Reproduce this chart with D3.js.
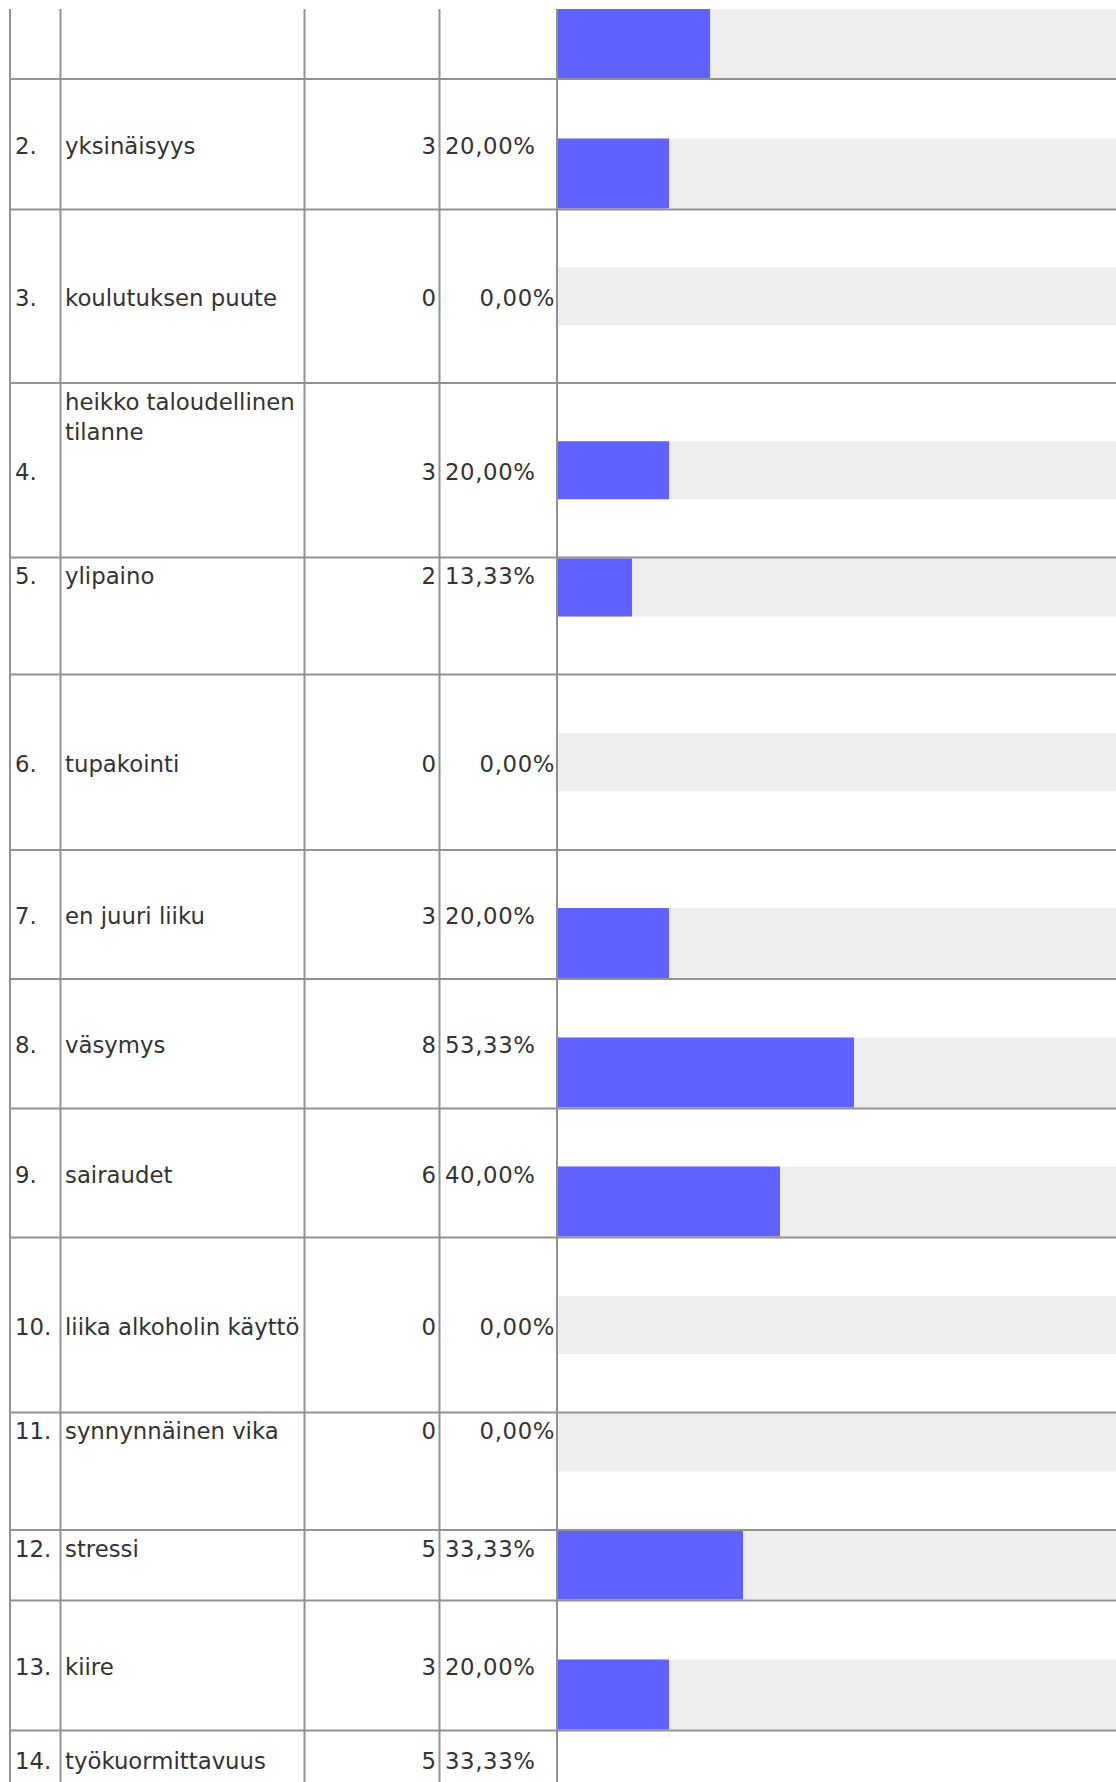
<!DOCTYPE html>
<html>
<head>
<meta charset="utf-8">
<script src="https://cdn.jsdelivr.net/npm/d3@7/dist/d3.min.js"></script>
<style>
	body { margin: 0; background: #fff; }
	svg text { font-family: 'DejaVu Sans', Verdana, sans-serif; font-size: 22.8px; fill: #333; }
	svg text.pct { letter-spacing: 0.6px; }
</style>
</head>
<body>
<div id="container"></div>
<script>
// survey answers (row 1 is cut off at the top of the picture)
var rowNumbers = ['1.', '2.', '3.', '4.', '5.', '6.', '7.', '8.', '9.', '10.', '11.', '12.', '13.', '14.'];
var categories = ['', 'yksinäisyys', 'koulutuksen puute', 'heikko taloudellinen tilanne', 'ylipaino',
	'tupakointi', 'en juuri liiku', 'väsymys', 'sairaudet', 'liika alkoholin käyttö',
	'synnynnäinen vika', 'stressi', 'kiire', 'työkuormittavuus'];
var counts = [4, 3, 0, 3, 2, 0, 3, 8, 6, 0, 0, 5, 3, 5];
var percents = [27.4, 20, 0, 20, 13.33, 0, 20, 53.33, 40, 0, 0, 33.33, 20, 33.33];

// row layout of the table as it was rendered
var rowHeights = [175, 130.5, 173.5, 174.5, 117, 175.5, 129, 129.5, 129, 175, 117.5, 70.5, 130, 175];
var barAlign   = ['bottom', 'bottom', 'middle', 'middle', 'top', 'middle', 'bottom', 'bottom', 'bottom', 'middle', 'top', 'bottom', 'bottom', 'middle'];
var textAlign  = ['middle', 'middle', 'middle', 'middle', 'top', 'middle', 'middle', 'middle', 'middle', 'middle', 'top', 'top', 'middle', 'top'];
var labelAlign = ['middle', 'middle', 'middle', 'top', 'top', 'middle', 'middle', 'middle', 'middle', 'middle', 'top', 'top', 'middle', 'top'];

var width = 1116,
	height = 1782,
	clipTop = 9,
	firstLine = 79,
	colX = [10, 60.5, 304.5, 439.5, 557],
	lineColor = '#919191';

var rows = [], lines = [], y0 = firstLine - rowHeights[0];
lines.push(y0);
rowHeights.forEach(function(h, i) {
	var d = {
		num: rowNumbers[i],
		label: categories[i],
		count: counts[i],
		pct: percents[i],
		top: y0, bottom: y0 + h,
		barAlign: barAlign[i],
		barH: barAlign[i] == 'bottom' ? 70 : 58,
		textAlign: textAlign[i],
		labelAlign: labelAlign[i]
	};
	rows.push(d);
	y0 += h;
	lines.push(y0);
});

var xScale = d3.scaleLinear()
	.domain([0, 100])
	.range([0, 555]);

var canvas = d3.select('#container').append('svg')
	.attr('width', width)
	.attr('height', height);

canvas.append('defs').append('clipPath')
	.attr('id', 'clip')
	.append('rect')
	.attr('x', 0).attr('y', clipTop)
	.attr('width', width).attr('height', height - clipTop);

var g = canvas.append('g').attr('clip-path', 'url(#clip)');

function barY(d) {
	var inTop = d.top + 1, inBottom = d.bottom - 1;
	if (d.barAlign == 'top') return inTop;
	if (d.barAlign == 'bottom') return inBottom - d.barH;
	return (inTop + inBottom - d.barH) / 2;
}
function baseY(d, align) {
	if (align == 'top') return d.top + (d.num == '14.' ? 38 : 26.5);
	return (d.top + d.bottom) / 2 + 9.5;
}

// grey track + blue bar
var barX = colX[4] + 1;
g.selectAll('rect.track')
	.data(rows)
	.enter()
		.append('rect')
		.attr('class', 'track')
		.attr('x', barX)
		.attr('y', barY)
		.attr('width', width - barX)
		.attr('height', function(d) { return d.barH; })
		.attr('fill', '#eeeeee');

g.selectAll('rect.bar')
	.data(rows)
	.enter()
		.append('rect')
		.attr('class', 'bar')
		.attr('x', barX)
		.attr('y', barY)
		.attr('width', function(d) { return xScale(d.pct); })
		.attr('height', function(d) { return d.barH; })
		.attr('fill', '#6161ff');

// grid
g.selectAll('line.h')
	.data(lines)
	.enter()
		.append('line')
		.attr('x1', colX[0] - 1).attr('x2', width)
		.attr('y1', function(d) { return d; })
		.attr('y2', function(d) { return d; })
		.attr('stroke', lineColor)
		.attr('stroke-width', 2);

g.selectAll('line.v')
	.data(colX)
	.enter()
		.append('line')
		.attr('x1', function(d) { return d; })
		.attr('x2', function(d) { return d; })
		.attr('y1', clipTop).attr('y2', height)
		.attr('stroke', lineColor)
		.attr('stroke-width', 2);

// texts (row 1's texts sit above the cut, so they are left out)
var fmt = function(v) { return d3.format('.2f')(v).replace('.', ',') + '%'; };

var rowG = g.selectAll('g.row')
	.data(rows.filter(function(d) { return baseY(d, 'middle') > clipTop + 20; }))
	.enter()
		.append('g')
		.attr('class', 'row');

rowG.append('text')
	.attr('x', colX[0] + 5)
	.attr('y', function(d) { return baseY(d, d.textAlign); })
	.text(function(d) { return d.num; });

rowG.append('text')
	.attr('x', colX[1] + 4.5)
	.attr('y', function(d) { return baseY(d, d.labelAlign); })
	.each(function(d) {
		var t = d3.select(this), words = d.label.split(' '), line = [];
		var ts = t.append('tspan').attr('x', colX[1] + 4.5).attr('dy', 0);
		words.forEach(function(w) {
			line.push(w);
			ts.text(line.join(' '));
			if (ts.node().getComputedTextLength() > colX[2] - colX[1] - 8 && line.length > 1) {
				line.pop();
				ts.text(line.join(' '));
				line = [w];
				ts = t.append('tspan').attr('x', colX[1] + 4.5).attr('dy', 30).text(w);
			}
		});
	});

rowG.append('text')
	.attr('x', colX[3] - 3.5)
	.attr('text-anchor', 'end')
	.attr('y', function(d) { return baseY(d, d.textAlign); })
	.text(function(d) { return d.count; });

rowG.append('text')
	.attr('class', 'pct')
	.attr('x', function(d) { return d.pct > 0 ? colX[3] + 5.5 : colX[4] - 2; })
	.attr('text-anchor', function(d) { return d.pct > 0 ? 'start' : 'end'; })
	.attr('y', function(d) { return baseY(d, d.textAlign); })
	.text(function(d) { return fmt(d.pct); });
</script>
</body>
</html>
